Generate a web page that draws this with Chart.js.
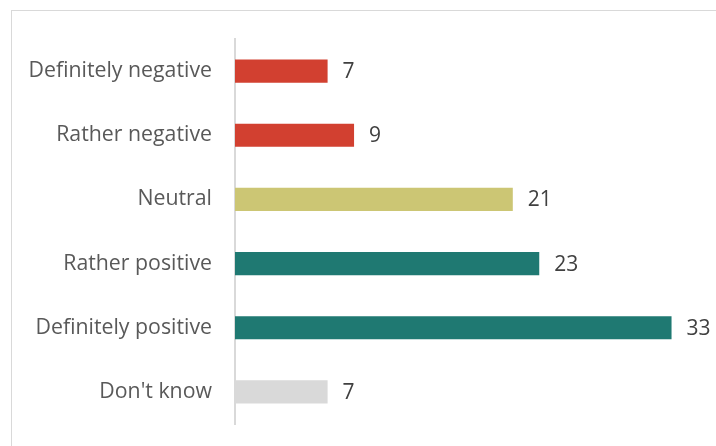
<!DOCTYPE html>
<html>
<head>
<meta charset="utf-8">
<script src="https://cdn.jsdelivr.net/npm/chart.js@4.4.1/dist/chart.umd.min.js"></script>
<style>
  html, body { margin: 0; padding: 0; background: #fff; overflow: hidden; }
  #wrap { position: relative; width: 716px; height: 446px; }
  #frame { position: absolute; left: 11px; top: 10px; width: 740px; height: 470px; border: 1px solid #d9d9d9; box-sizing: border-box; }
  canvas { position: absolute; left: 0; top: 0; }
</style>
</head>
<body>
<div id="wrap">
  <div id="frame"></div>
  <canvas id="chart" width="716" height="446"></canvas>
</div>
<script>
const categories = ["Definitely negative", "Rather negative", "Neutral", "Rather positive", "Definitely positive", "Don't know"];
const values = [7, 9, 21, 23, 33, 7];
const barColors = ["#d24030", "#d24030", "#ccc674", "#1f7972", "#1f7972", "#d9d9d9"];

// value labels at the end of each bar
const valueLabels = {
  id: "valueLabels",
  afterDatasetsDraw(chart) {
    const ctx = chart.ctx;
    const meta = chart.getDatasetMeta(0);
    ctx.save();
    ctx.font = "21px 'Open Sans'";
    ctx.fillStyle = "#404040";
    ctx.textAlign = "left";
    ctx.textBaseline = "middle";
    meta.data.forEach((bar, i) => {
      ctx.fillText(String(values[i]), bar.x + 15, bar.y + 1);
    });
    ctx.restore();
  }
};

let chart = new Chart(document.getElementById("chart"), {
  type: "bar",
  data: {
    labels: categories,
    datasets: [{
      data: values,
      backgroundColor: barColors,
      borderWidth: 0,
      barPercentage: 0.36,
      categoryPercentage: 1
    }]
  },
  options: {
    indexAxis: "y",
    responsive: false,
    animation: false,
    layout: { padding: { left: 0, top: 39, right: 18, bottom: 22 } },
    plugins: {
      legend: { display: false },
      tooltip: { enabled: false }
    },
    scales: {
      x: { display: false, min: 0, max: 35 },
      y: {
        afterFit(scale) {
          scale.width = 235;
          scale.paddingTop = 0;
          scale.paddingBottom = 0;
        },
        grid: { display: false, drawTicks: false },
        border: { display: true, color: "#d9d9d9", width: 2 },
        ticks: {
          padding: 23,
          color: "#595959",
          font: { family: "'Open Sans'", size: 21.3 }
        }
      }
    }
  },
  plugins: [valueLabels]
});
</script>
</body>
</html>
